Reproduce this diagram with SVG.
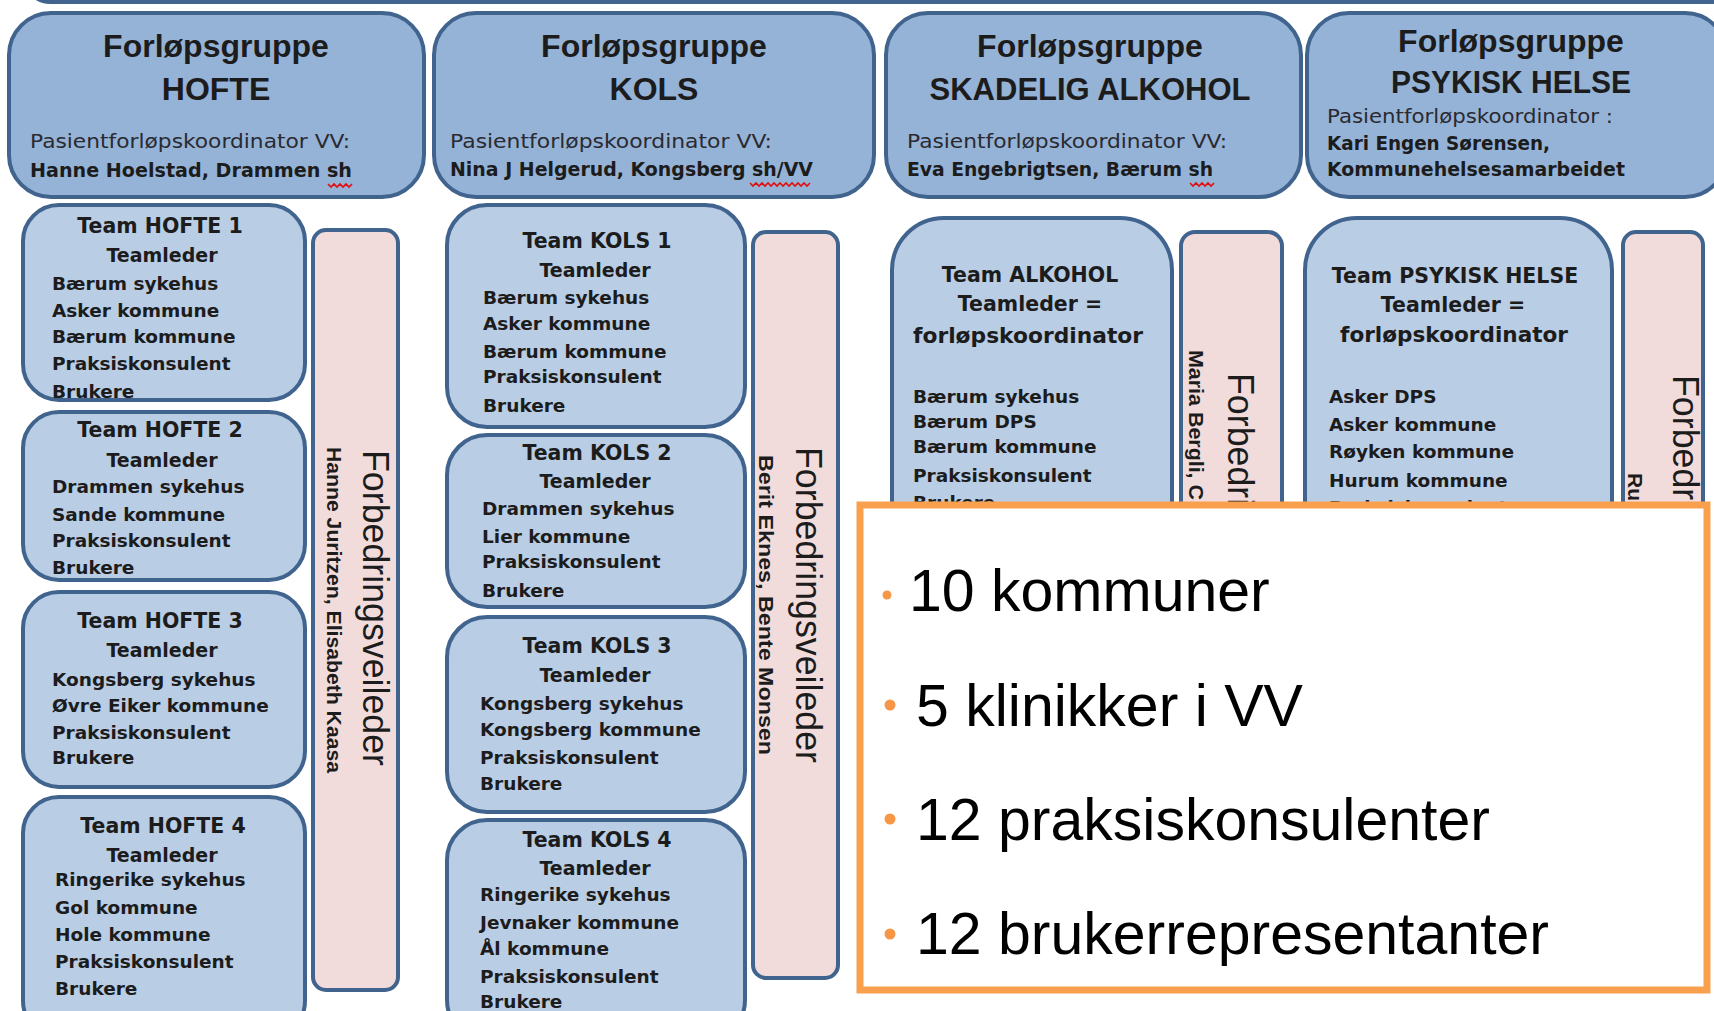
<svg xmlns="http://www.w3.org/2000/svg" width="1714" height="1011" viewBox="0 0 1714 1011">
<style>
.hdr{fill:#95B3D7;stroke:#41648F;stroke-width:4}
.team{fill:#B9CDE5;stroke:#41648F;stroke-width:4}
.pink{fill:#F2DCDB;stroke:#41648F;stroke-width:4}
.ht{font-family:"Liberation Sans",Arial,sans-serif;font-weight:bold;font-size:32px;fill:#1c1c1c;text-anchor:middle}
.hp{font-family:"DejaVu Sans",sans-serif;font-size:19px;fill:#2a2a30}
.hn{font-family:"DejaVu Sans",sans-serif;font-weight:bold;font-size:19px;fill:#1c1c1c}
.tt{font-family:"DejaVu Sans",sans-serif;font-weight:bold;font-size:20.5px;fill:#1c1c1c;text-anchor:middle}
.tl{font-family:"DejaVu Sans",sans-serif;font-weight:bold;font-size:19px;fill:#1c1c1c;text-anchor:middle}
.li{font-family:"DejaVu Sans",sans-serif;font-weight:bold;font-size:18.5px;fill:#1c1c1c}
.fv{font-family:"Liberation Sans",Arial,sans-serif;font-size:36px;fill:#1c1c1c}
.nm{font-family:"Liberation Sans",Arial,sans-serif;font-weight:bold;font-size:21px;fill:#1c1c1c}
.sq{fill:none;stroke:#E01010;stroke-width:1.6}
.big{font-family:"Liberation Sans",Arial,sans-serif;font-size:59px;fill:#000}
.bul{fill:#F79646}
</style>

<g id="top-bar">
<rect x="25" y="-70" width="1720" height="72" rx="25" class="hdr"/>
</g>

<g id="header-hofte">
<rect x="9" y="13" width="415" height="184" rx="42" class="hdr"/>
<text class="ht" x="216" y="57">Forløpsgruppe</text>
<text class="ht" x="216" y="100">HOFTE</text>
<text class="hp" x="30" y="148" textLength="320" lengthAdjust="spacingAndGlyphs">Pasientforløpskoordinator VV:</text>
<text class="hn" x="30" y="177" textLength="322" lengthAdjust="spacingAndGlyphs">Hanne Hoelstad, Drammen sh</text>
<path class="sq" d="M328 184 l3 3 l3 -3 l3 3 l3 -3 l3 3 l3 -3 l3 3 l3 -3"/>
</g>

<g id="header-kols">
<rect x="434" y="13" width="440" height="184" rx="42" class="hdr"/>
<text class="ht" x="654" y="57">Forløpsgruppe</text>
<text class="ht" x="654" y="100">KOLS</text>
<text class="hp" x="450" y="148" textLength="322" lengthAdjust="spacingAndGlyphs">Pasientforløpskoordinator VV:</text>
<text class="hn" x="450" y="176" textLength="363" lengthAdjust="spacingAndGlyphs">Nina J Helgerud, Kongsberg sh/VV</text>
<path class="sq" d="M750 183 l3 3 l3 -3 l3 3 l3 -3 l3 3 l3 -3 l3 3 l3 -3 l3 3 l3 -3 l3 3 l3 -3 l3 3 l3 -3 l3 3 l3 -3 l3 3 l3 -3 l3 3 l3 -3"/>
</g>

<g id="header-alkohol">
<rect x="886" y="13" width="415" height="184" rx="42" class="hdr"/>
<text class="ht" x="1090" y="57">Forløpsgruppe</text>
<text class="ht" x="1090" y="100" style="font-size:31px">SKADELIG ALKOHOL</text>
<text class="hp" x="907" y="148" textLength="320" lengthAdjust="spacingAndGlyphs">Pasientforløpskoordinator VV:</text>
<text class="hn" x="907" y="176" textLength="306" lengthAdjust="spacingAndGlyphs">Eva Engebrigtsen, Bærum sh</text>
<path class="sq" d="M1190 183 l3 3 l3 -3 l3 3 l3 -3 l3 3 l3 -3 l3 3 l3 -3"/>
</g>

<g id="header-psykisk">
<rect x="1307" y="13" width="420" height="184" rx="42" class="hdr"/>
<text class="ht" x="1511" y="52">Forløpsgruppe</text>
<text class="ht" x="1511" y="93" textLength="240" lengthAdjust="spacingAndGlyphs">PSYKISK HELSE</text>
<text class="hp" x="1327" y="123" textLength="286" lengthAdjust="spacingAndGlyphs">Pasientforløpskoordinator :</text>
<text class="hn" x="1327" y="150" textLength="223" lengthAdjust="spacingAndGlyphs">Kari Engen Sørensen,</text>
<text class="hn" x="1327" y="176" textLength="298" lengthAdjust="spacingAndGlyphs">Kommunehelsesamarbeidet</text>
</g>

<g id="team-hofte-1">
<rect x="23" y="205" width="282" height="195" rx="36" class="team"/>
<text class="tt" x="160" y="233">Team HOFTE 1</text>
<text class="tl" x="162" y="262">Teamleder</text>
<text class="li" x="52" y="290">Bærum sykehus</text>
<text class="li" x="52" y="317">Asker kommune</text>
<text class="li" x="52" y="343">Bærum kommune</text>
<text class="li" x="52" y="370">Praksiskonsulent</text>
<text class="li" x="52" y="398">Brukere</text>
</g>

<g id="team-hofte-2">
<rect x="23" y="412" width="282" height="168" rx="36" class="team"/>
<text class="tt" x="160" y="437">Team HOFTE 2</text>
<text class="tl" x="162" y="467">Teamleder</text>
<text class="li" x="52" y="493">Drammen sykehus</text>
<text class="li" x="52" y="521">Sande kommune</text>
<text class="li" x="52" y="547">Praksiskonsulent</text>
<text class="li" x="52" y="574">Brukere</text>
</g>

<g id="team-hofte-3">
<rect x="23" y="592" width="282" height="195" rx="36" class="team"/>
<text class="tt" x="160" y="628">Team HOFTE 3</text>
<text class="tl" x="162" y="657">Teamleder</text>
<text class="li" x="52" y="686">Kongsberg sykehus</text>
<text class="li" x="52" y="712">Øvre Eiker kommune</text>
<text class="li" x="52" y="739">Praksiskonsulent</text>
<text class="li" x="52" y="764">Brukere</text>
</g>

<g id="team-hofte-4">
<rect x="23" y="797" width="282" height="240" rx="36" class="team"/>
<text class="tt" x="163" y="833">Team HOFTE 4</text>
<text class="tl" x="162" y="862">Teamleder</text>
<text class="li" x="55" y="886">Ringerike sykehus</text>
<text class="li" x="55" y="914">Gol kommune</text>
<text class="li" x="55" y="941">Hole kommune</text>
<text class="li" x="55" y="968">Praksiskonsulent</text>
<text class="li" x="55" y="995">Brukere</text>
</g>

<g id="veileder-hofte">
<rect x="313" y="230" width="85" height="760" rx="13" class="pink"/>
<text class="fv" x="363" y="450" transform="rotate(90 363 450)" textLength="316" lengthAdjust="spacingAndGlyphs">Forbedringsveileder</text>
<text class="nm" x="327" y="447" transform="rotate(90 327 447)" textLength="326" lengthAdjust="spacingAndGlyphs">Hanne Juritzen, Elisabeth Kaasa</text>
</g>

<g id="team-kols-1">
<rect x="447" y="205" width="298" height="222" rx="40" class="team"/>
<text class="tt" x="597" y="248">Team KOLS 1</text>
<text class="tl" x="595" y="277">Teamleder</text>
<text class="li" x="483" y="304">Bærum sykehus</text>
<text class="li" x="483" y="330">Asker kommune</text>
<text class="li" x="483" y="358">Bærum kommune</text>
<text class="li" x="483" y="383">Praksiskonsulent</text>
<text class="li" x="483" y="412">Brukere</text>
</g>

<g id="team-kols-2">
<rect x="447" y="435" width="298" height="172" rx="40" class="team"/>
<text class="tt" x="597" y="460">Team KOLS 2</text>
<text class="tl" x="595" y="488">Teamleder</text>
<text class="li" x="482" y="515">Drammen sykehus</text>
<text class="li" x="482" y="543">Lier kommune</text>
<text class="li" x="482" y="568">Praksiskonsulent</text>
<text class="li" x="482" y="597">Brukere</text>
</g>

<g id="team-kols-3">
<rect x="447" y="617" width="298" height="195" rx="40" class="team"/>
<text class="tt" x="597" y="653">Team KOLS 3</text>
<text class="tl" x="595" y="682">Teamleder</text>
<text class="li" x="480" y="710">Kongsberg sykehus</text>
<text class="li" x="480" y="736">Kongsberg kommune</text>
<text class="li" x="480" y="764">Praksiskonsulent</text>
<text class="li" x="480" y="790">Brukere</text>
</g>

<g id="team-kols-4">
<rect x="447" y="820" width="298" height="220" rx="40" class="team"/>
<text class="tt" x="597" y="847">Team KOLS 4</text>
<text class="tl" x="595" y="875">Teamleder</text>
<text class="li" x="480" y="901">Ringerike sykehus</text>
<text class="li" x="480" y="929">Jevnaker kommune</text>
<text class="li" x="480" y="955">Ål kommune</text>
<text class="li" x="480" y="983">Praksiskonsulent</text>
<text class="li" x="480" y="1008">Brukere</text>
</g>

<g id="veileder-kols">
<rect x="753" y="232" width="85" height="746" rx="13" class="pink"/>
<text class="fv" x="796" y="447" transform="rotate(90 796 447)" textLength="316" lengthAdjust="spacingAndGlyphs">Forbedringsveileder</text>
<text class="nm" x="759" y="455" transform="rotate(90 759 455)" textLength="300" lengthAdjust="spacingAndGlyphs">Berit Eknes, Bente Monsen</text>
</g>

<g id="team-alkohol">
<rect x="892" y="218" width="280" height="752" rx="52" class="team"/>
<text class="tt" x="1030" y="282">Team ALKOHOL</text>
<text class="tt" x="1030" y="311">Teamleder =</text>
<text class="tt" x="1028" y="343" textLength="230" lengthAdjust="spacingAndGlyphs">forløpskoordinator</text>
<text class="li" x="913" y="403">Bærum sykehus</text>
<text class="li" x="913" y="428">Bærum DPS</text>
<text class="li" x="913" y="453">Bærum kommune</text>
<text class="li" x="913" y="482">Praksiskonsulent</text>
<text class="li" x="913" y="509">Brukere</text>
</g>

<g id="veileder-alkohol">
<rect x="1181" y="232" width="101" height="738" rx="14" class="pink"/>
<text class="fv" x="1228" y="373" transform="rotate(90 1228 373)" textLength="316" lengthAdjust="spacingAndGlyphs">Forbedringsveileder</text>
<text class="nm" x="1189" y="350" transform="rotate(90 1189 350)" textLength="150" lengthAdjust="spacingAndGlyphs">Maria Bergli, C</text>
</g>

<g id="team-psykisk">
<rect x="1305" y="218" width="307" height="752" rx="52" class="team"/>
<text class="tt" x="1455" y="283">Team PSYKISK HELSE</text>
<text class="tt" x="1453" y="312">Teamleder =</text>
<text class="tt" x="1454" y="342" textLength="228" lengthAdjust="spacingAndGlyphs">forløpskoordinator</text>
<text class="li" x="1329" y="403">Asker DPS</text>
<text class="li" x="1329" y="431">Asker kommune</text>
<text class="li" x="1329" y="458">Røyken kommune</text>
<text class="li" x="1329" y="487">Hurum kommune</text>
<text class="li" x="1329" y="514">Praksiskonsulent</text>
</g>

<g id="veileder-psykisk">
<rect x="1623" y="232" width="80" height="738" rx="13" class="pink"/>
<text class="fv" x="1673" y="375" transform="rotate(90 1673 375)" textLength="316" lengthAdjust="spacingAndGlyphs">Forbedringsveileder</text>
<text class="nm" x="1628" y="473" transform="rotate(90 1628 473)">Ru</text>
</g>

<g id="connectors"></g>

<g id="summary">
<rect x="860" y="505" width="847" height="485" fill="#FFFFFF" stroke="#F9A04F" stroke-width="7"/>
<circle class="bul" cx="887" cy="595" r="4.5"/>
<circle class="bul" cx="890" cy="705" r="5.5"/>
<circle class="bul" cx="890" cy="819" r="5.5"/>
<circle class="bul" cx="890" cy="934" r="5.5"/>
<text class="big" x="909" y="611">10 kommuner</text>
<text class="big" x="916" y="726">5 klinikker i VV</text>
<text class="big" x="916" y="840">12 praksiskonsulenter</text>
<text class="big" x="916" y="954">12 brukerrepresentanter</text>
</g>
</svg>
